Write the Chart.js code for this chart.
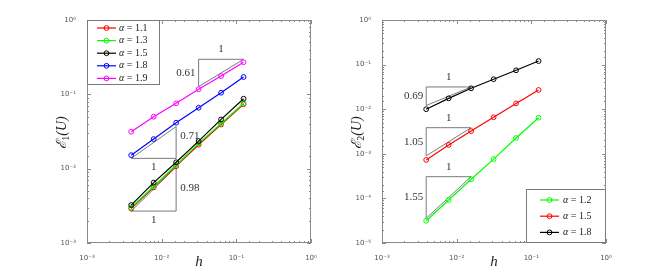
<!DOCTYPE html>
<html>
<head>
<meta charset="utf-8">
<script src="https://cdn.jsdelivr.net/npm/chart.js@4.4.1/dist/chart.umd.min.js"></script>
<style>
  html,body{margin:0;padding:0;background:#fff;}
  #wrap{position:relative;width:670px;height:273px;overflow:hidden;}
  .pane{position:absolute;top:0;width:335px;height:273px;}
</style>
</head>
<body>
<div id="wrap">
  <div class="pane" style="left:0"><canvas id="c1" width="335" height="273"></canvas></div>
  <div class="pane" style="left:335px"><canvas id="c2" width="335" height="273"></canvas></div>
</div>
<script>
// ---- data
const H = [1/256, 1/128, 1/64, 1/32, 1/16, 1/8];

const LEFT_ALPHAS = ['1.1', '1.3', '1.5', '1.8', '1.9'];
const L_A11 = [0.0029, 0.0056, 0.0108, 0.0210, 0.0392, 0.0735];
const L_A13 = [0.0030, 0.0058, 0.0112, 0.0219, 0.0406, 0.0757];
const L_A15 = [0.00324, 0.0065, 0.0122, 0.0235, 0.0460, 0.0873];
const L_A18 = [0.0152, 0.0250, 0.0415, 0.0660, 0.105, 0.171];
const L_A19 = [0.0314, 0.050, 0.0757, 0.117, 0.176, 0.270];

const RIGHT_ALPHAS = ['1.2', '1.5', '1.8'];
const R_A12 = [3.16e-5, 9.2e-5, 2.68e-4, 7.6e-4, 2.26e-3, 6.45e-3];
const R_A15 = [7.3e-4, 1.58e-3, 3.24e-3, 6.6e-3, 1.35e-2, 2.7e-2];
const R_A18 = [0.0100, 0.0175, 0.0294, 0.047, 0.0745, 0.120];

// slope triangles: corner value e, legs from h0 to h1
const LEFT_SLOPES = [
  { h0:1/32,  h1:1/8,  e:0.296,   slope:0.61, kind:'top',    label:'0.61' },
  { h0:1/256, h1:1/64, e:0.01376, slope:0.71, kind:'bottom', label:'0.71', up:true },
  { h0:1/256, h1:1/64, e:0.00269, slope:0.98, kind:'bottom', label:'0.98' }
];
const RIGHT_SLOPES = [
  { h0:1/256, h1:1/64, e:0.0315,  slope:0.69, kind:'top', label:'0.69' },
  { h0:1/256, h1:1/64, e:0.00385, slope:1.05, kind:'top', label:'1.05' },
  { h0:1/256, h1:1/64, e:3.07e-4, slope:1.55, kind:'top', label:'1.55' }
];

const X_RANGE = [1e-3, 1];
const LEFT_Y_RANGE = [1e-3, 1];
const RIGHT_Y_RANGE = [1e-5, 1];

// ---- helpers
const SUP = {'-':'⁻','0':'⁰','1':'¹','2':'²','3':'³','4':'⁴','5':'⁵','6':'⁶','7':'⁷','8':'⁸','9':'⁹'};
const isDecade = v => { const e = Math.log10(v); return Math.abs(e - Math.round(e)) < 1e-6; };
const decadeLabel = v => isDecade(v) ? '10' + String(Math.round(Math.log10(v))).split('').map(c=>SUP[c]).join('') : '';

const SERIF = '"Liberation Serif","DejaVu Serif",serif';
const AXIS = '#8a8a8a';

const series = (label, ys, color, order) => ({
  label, data: ys.map((y,i)=>({x:H[i], y})),
  borderColor: color, backgroundColor: color, borderWidth: 1.2,
  pointRadius: 2.4, pointBorderWidth: 1, pointBackgroundColor: 'rgba(0,0,0,0)',
  pointBorderColor: color, tension: 0, order
});

const decor = {
  id:'decor',
  beforeDatasetsDraw(chart, args, o){
    const {ctx, scales:{x,y}} = chart;
    ctx.save();
    ctx.strokeStyle = '#7a7a7a'; ctx.lineWidth = 1;
    ctx.fillStyle = '#333'; ctx.font = '11px ' + SERIF;
    ctx.textBaseline = 'middle';
    o.slopes.forEach(s=>{
      const r = Math.pow(s.h1/s.h0, s.slope);
      const x0 = x.getPixelForValue(s.h0), x1 = x.getPixelForValue(s.h1);
      if (s.kind === 'top') {
        const yt = y.getPixelForValue(s.e), yb = y.getPixelForValue(s.e / r);
        ctx.beginPath();
        ctx.moveTo(x1, yt); ctx.lineTo(x0, yt); ctx.lineTo(x0, yb); ctx.closePath();
        ctx.stroke();
        ctx.textAlign = 'center'; ctx.fillText('1', (x0+x1)/2, yt - 10);
        ctx.textAlign = 'right'; ctx.fillText(s.label, x0 - 3, (yt+yb)/2);
      } else {
        const yb = y.getPixelForValue(s.e), yt = y.getPixelForValue(s.e * r);
        ctx.beginPath();
        ctx.moveTo(x0, yb); ctx.lineTo(x1, yb); ctx.lineTo(x1, yt); ctx.closePath();
        ctx.stroke();
        ctx.textAlign = 'center'; ctx.fillText('1', (x0+x1)/2, yb + 9);
        ctx.textAlign = 'left';
        ctx.fillText(s.label, x1 + 4, s.up ? yt + 10 : (yt+yb)/2 - 1);
      }
    });
    ctx.restore();
  },
  afterDraw(chart, args, o){
    const {ctx, chartArea:a, scales:{x,y}} = chart;
    ctx.save();
    // box
    ctx.strokeStyle = AXIS; ctx.lineWidth = 1;
    ctx.strokeRect(a.left+0.5, a.top+0.5, a.right-a.left-1, a.bottom-a.top-1);
    // inward ticks
    ctx.beginPath();
    x.ticks.forEach(t=>{
      const p = Math.round(x.getPixelForValue(t.value)) + 0.5, L = isDecade(t.value) ? 4 : 2;
      ctx.moveTo(p, a.bottom); ctx.lineTo(p, a.bottom - L);
      ctx.moveTo(p, a.top); ctx.lineTo(p, a.top + L);
    });
    y.ticks.forEach(t=>{
      const p = Math.round(y.getPixelForValue(t.value)) + 0.5, L = isDecade(t.value) ? 4 : 2;
      ctx.moveTo(a.left, p); ctx.lineTo(a.left + L, p);
      ctx.moveTo(a.right, p); ctx.lineTo(a.right - L, p);
    });
    ctx.stroke();

    // legend
    const lg = o.legend;
    ctx.fillStyle = '#fff';
    ctx.fillRect(lg.x0, lg.y0, lg.x1-lg.x0, lg.y1-lg.y0);
    ctx.strokeStyle = '#7a7a7a';
    ctx.strokeRect(lg.x0+0.5, lg.y0+0.5, lg.x1-lg.x0-1, lg.y1-lg.y0-1);
    ctx.textBaseline = 'middle'; ctx.textAlign = 'left';
    chart.data.datasets.forEach((d,i)=>{
      const yy = lg.first + i*lg.step;
      ctx.strokeStyle = d.borderColor; ctx.lineWidth = 1.2;
      ctx.beginPath(); ctx.moveTo(lg.lx0, yy); ctx.lineTo(lg.lx1, yy); ctx.stroke();
      ctx.lineWidth = 1;
      ctx.beginPath(); ctx.arc((lg.lx0+lg.lx1)/2, yy, 2.4, 0, Math.PI*2); ctx.stroke();
      ctx.fillStyle = '#222';
      ctx.font = 'italic 10px ' + SERIF;
      ctx.fillText('α', lg.tx, yy);
      const w = ctx.measureText('α').width;
      ctx.font = '10px ' + SERIF;
      ctx.fillText(' = ' + d.label, lg.tx + w, yy);
    });

    // axis titles
    ctx.fillStyle = '#222';
    ctx.font = 'italic 15px ' + SERIF;
    ctx.textAlign = 'center'; ctx.textBaseline = 'middle';
    ctx.fillText('h', (a.left+a.right)/2, 262);
    ctx.save();
    ctx.translate(a.left - 25, (a.top+a.bottom)/2 + 1);
    ctx.rotate(-Math.PI/2);
    ctx.font = 'italic 14px ' + SERIF;
    const t1 = 'ℰ', w1 = ctx.measureText(t1).width;
    ctx.font = '10px ' + SERIF;
    const w2 = ctx.measureText(o.sub).width;
    ctx.font = 'italic 14px ' + SERIF;
    const w3 = ctx.measureText('(U)').width;
    let sx = -(w1+w2+w3)/2;
    ctx.textAlign = 'left';
    ctx.fillText(t1, sx, 0); sx += w1;
    ctx.font = '10px ' + SERIF; ctx.fillText(o.sub, sx, 4); sx += w2;
    ctx.font = 'italic 14px ' + SERIF; ctx.fillText('(U)', sx, 0);
    ctx.restore();
    ctx.restore();
  }
};

function makeChart(id, datasets, yRange, padding, pluginOpts){
  return new Chart(document.getElementById(id), {
    type:'line',
    data:{ datasets },
    options:{
      responsive:false, animation:false,
      layout:{ padding },
      plugins:{ legend:{display:false}, tooltip:{enabled:false}, decor:pluginOpts },
      scales:{
        x:{
          type:'logarithmic', min:X_RANGE[0], max:X_RANGE[1],
          grid:{display:false}, border:{display:false},
          ticks:{ autoSkip:false, maxRotation:0, padding:3, color:'#555',
                  font:{size:7, family:'"DejaVu Sans",sans-serif'}, callback:v=>decadeLabel(v) },
          afterFit:s=>{ s.height = 20; }
        },
        y:{
          type:'logarithmic', min:yRange[0], max:yRange[1],
          grid:{display:false}, border:{display:false},
          ticks:{ autoSkip:false, padding:3, color:'#555',
                  font:{size:7, family:'"DejaVu Sans",sans-serif'}, callback:v=>decadeLabel(v) },
          afterFit:s=>{ s.width = 30; }
        }
      }
    },
    plugins:[decor]
  });
}

makeChart('c1', [
  series(LEFT_ALPHAS[0], L_A11, '#ff0000', 2),
  series(LEFT_ALPHAS[1], L_A13, '#00ff00', 1),
  series(LEFT_ALPHAS[2], L_A15, '#000000', 0),
  series(LEFT_ALPHAS[3], L_A18, '#0000ff', 3),
  series(LEFT_ALPHAS[4], L_A19, '#ff00ff', 4)
], LEFT_Y_RANGE, {left:57, right:24, top:20, bottom:10}, {
  slopes: LEFT_SLOPES, sub:'1',
  legend:{ x0:87, x1:160, y0:20, y1:85, first:28, step:12.6, lx0:97, lx1:116, tx:119 }
});

makeChart('c2', [
  series(RIGHT_ALPHAS[0], R_A12, '#00ff00', 2),
  series(RIGHT_ALPHAS[1], R_A15, '#ff0000', 1),
  series(RIGHT_ALPHAS[2], R_A18, '#000000', 0)
], RIGHT_Y_RANGE, {left:17, right:64, top:20, bottom:10}, {
  slopes: RIGHT_SLOPES, sub:'2',
  legend:{ x0:191, x1:271, y0:189, y1:243, first:200, step:16.2, lx0:205, lx1:224, tx:228 }
});
</script>
</body>
</html>
